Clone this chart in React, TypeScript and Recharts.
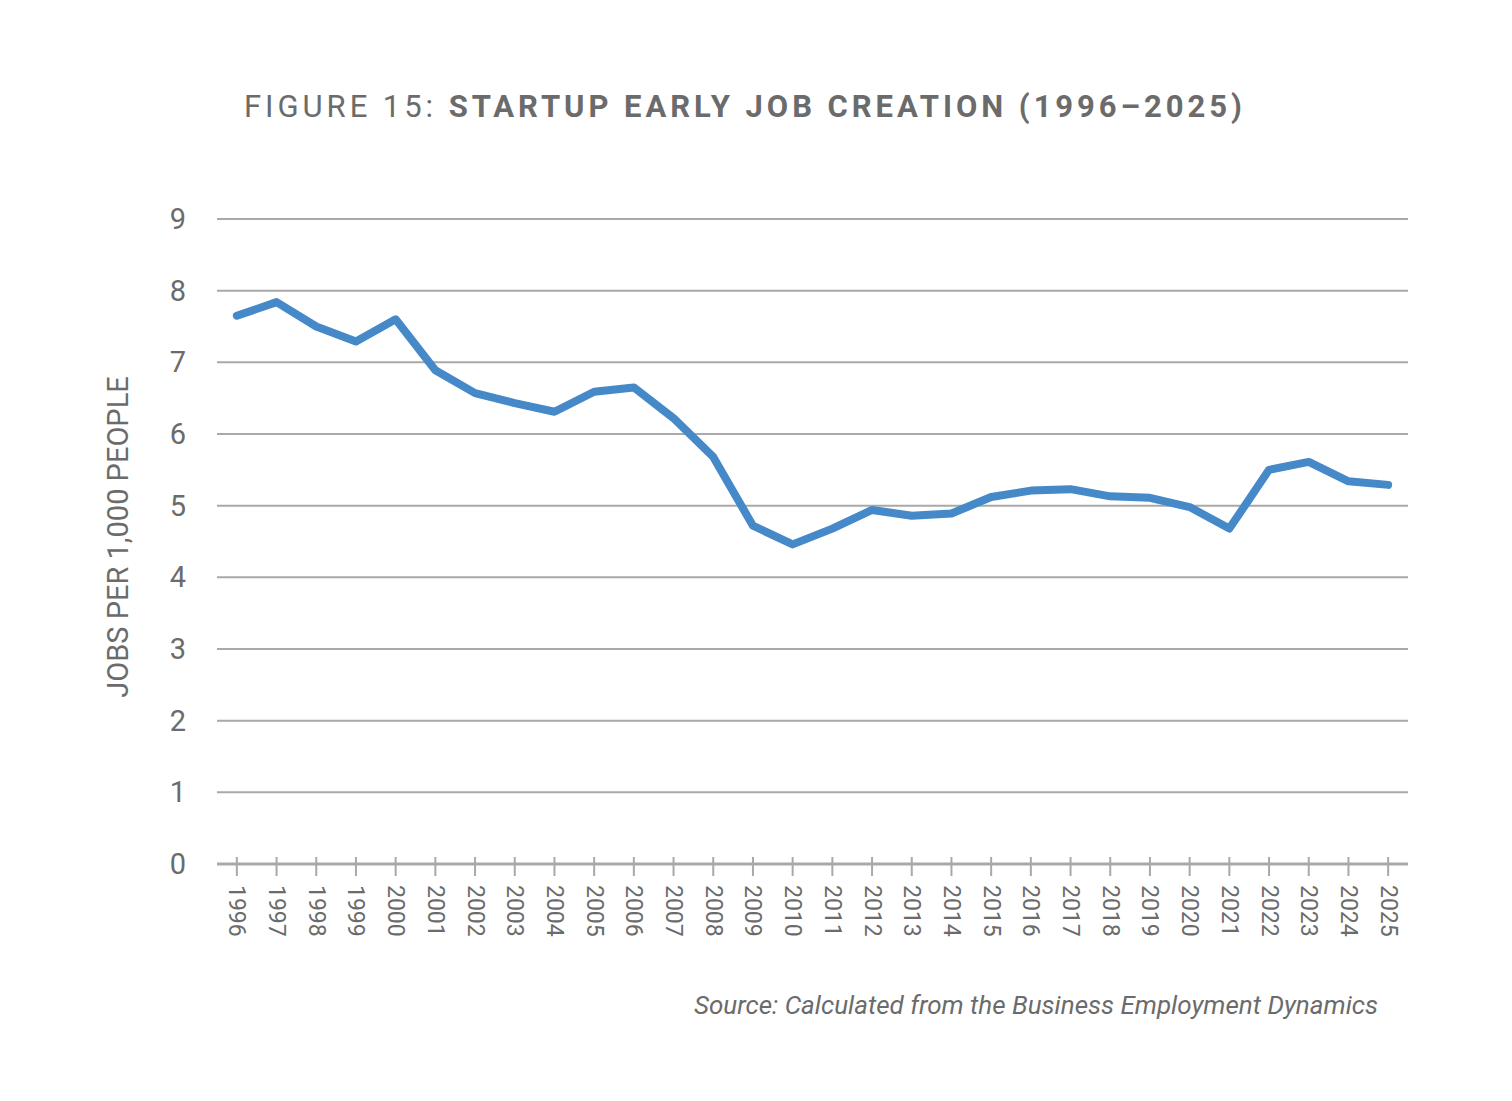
import React from 'react';
import { LineChart, Line, XAxis, YAxis, CartesianGrid } from 'recharts';

// Startup early job creation, jobs per 1,000 people
const years = [
  '1996', '1997', '1998', '1999', '2000', '2001', '2002', '2003', '2004', '2005',
  '2006', '2007', '2008', '2009', '2010', '2011', '2012', '2013', '2014', '2015',
  '2016', '2017', '2018', '2019', '2020', '2021', '2022', '2023', '2024', '2025',
];
const jobsPer1000 = [
  7.65, 7.84, 7.5, 7.29, 7.6, 6.89, 6.57, 6.43, 6.31, 6.59,
  6.65, 6.22, 5.68, 4.72, 4.46, 4.68, 4.94, 4.86, 4.89, 5.12,
  5.21, 5.23, 5.13, 5.11, 4.98, 4.68, 5.5, 5.61, 5.34, 5.29,
];
const yTicks = [0, 1, 2, 3, 4, 5, 6, 7, 8, 9];

const data = years.map((year, i) => ({ year, value: jobsPer1000[i] }));

const FONT = 'Roboto, "Liberation Sans", sans-serif';
const TEXT = '#6b6b6b';
const GRID = '#a9a9a9';
const LINE = '#4589c9';

const YearTick = (props: any) => {
  const { x, y, payload } = props;
  return (
    <g>
      <line x1={x} x2={x} y1={y - 7} y2={y + 12} stroke={GRID} strokeWidth={2} />
      <text
        x={0}
        y={0}
        transform={`translate(${x}, ${y + 21}) rotate(90)`}
        textAnchor="start"
        dominantBaseline="central"
        fontFamily={FONT}
        fontSize={23}
        fill={TEXT}
      >
        {payload.value}
      </text>
    </g>
  );
};

const ValueTick = (props: any) => {
  const { x, y, payload } = props;
  return (
    <text
      x={x}
      y={y}
      textAnchor="end"
      dominantBaseline="central"
      fontFamily={FONT}
      fontSize={29}
      fill={TEXT}
    >
      {payload.value}
    </text>
  );
};

export default function App() {
  return (
    <div style={{ position: 'absolute', left: 0, top: 0, width: 1512, height: 1101, background: '#fff' }}>
      <div
        style={{
          position: 'absolute',
          left: 244,
          top: 87,
          fontFamily: FONT,
          fontSize: 31,
          letterSpacing: 3.95,
          color: TEXT,
          whiteSpace: 'nowrap',
          lineHeight: '40px',
        }}
      >
        FIGURE 15: <span style={{ fontWeight: 700 }}>STARTUP EARLY JOB CREATION (1996–2025)</span>
      </div>

      <div
        style={{
          position: 'absolute',
          left: 118,
          top: 537,
          transform: 'translate(-50%, -50%) rotate(-90deg)',
          fontFamily: FONT,
          fontSize: 29,
          color: TEXT,
          whiteSpace: 'nowrap',
        }}
      >
        JOBS PER 1,000 PEOPLE
      </div>

      <LineChart
        width={1512}
        height={1101}
        data={data}
        margin={{ top: 219, right: 104, bottom: 177, left: 157 }}
      >
        <CartesianGrid vertical={false} stroke={GRID} strokeWidth={2} />
        <XAxis
          dataKey="year"
          scale="band"
          height={60}
          interval={0}
          tickSize={0}
          tickMargin={0}
          axisLine={{ stroke: GRID, strokeWidth: 3 }}
          tickLine={false}
          tick={<YearTick />}
        />
        <YAxis
          width={60}
          domain={[0, 9]}
          ticks={yTicks}
          interval={0}
          axisLine={false}
          tickLine={false}
          tickSize={0}
          tickMargin={31}
          tick={<ValueTick />}
        />
        <Line
          type="linear"
          dataKey="value"
          stroke={LINE}
          strokeWidth={8}
          strokeLinejoin="round"
          strokeLinecap="round"
          dot={false}
          activeDot={false}
          isAnimationActive={false}
        />
      </LineChart>

      <div
        style={{
          position: 'absolute',
          right: 1512 - 1378,
          top: 990,
          fontFamily: FONT,
          fontStyle: 'italic',
          fontSize: 26,
          color: TEXT,
          whiteSpace: 'nowrap',
        }}
      >
        Source: Calculated from the Business Employment Dynamics
      </div>
    </div>
  );
}
